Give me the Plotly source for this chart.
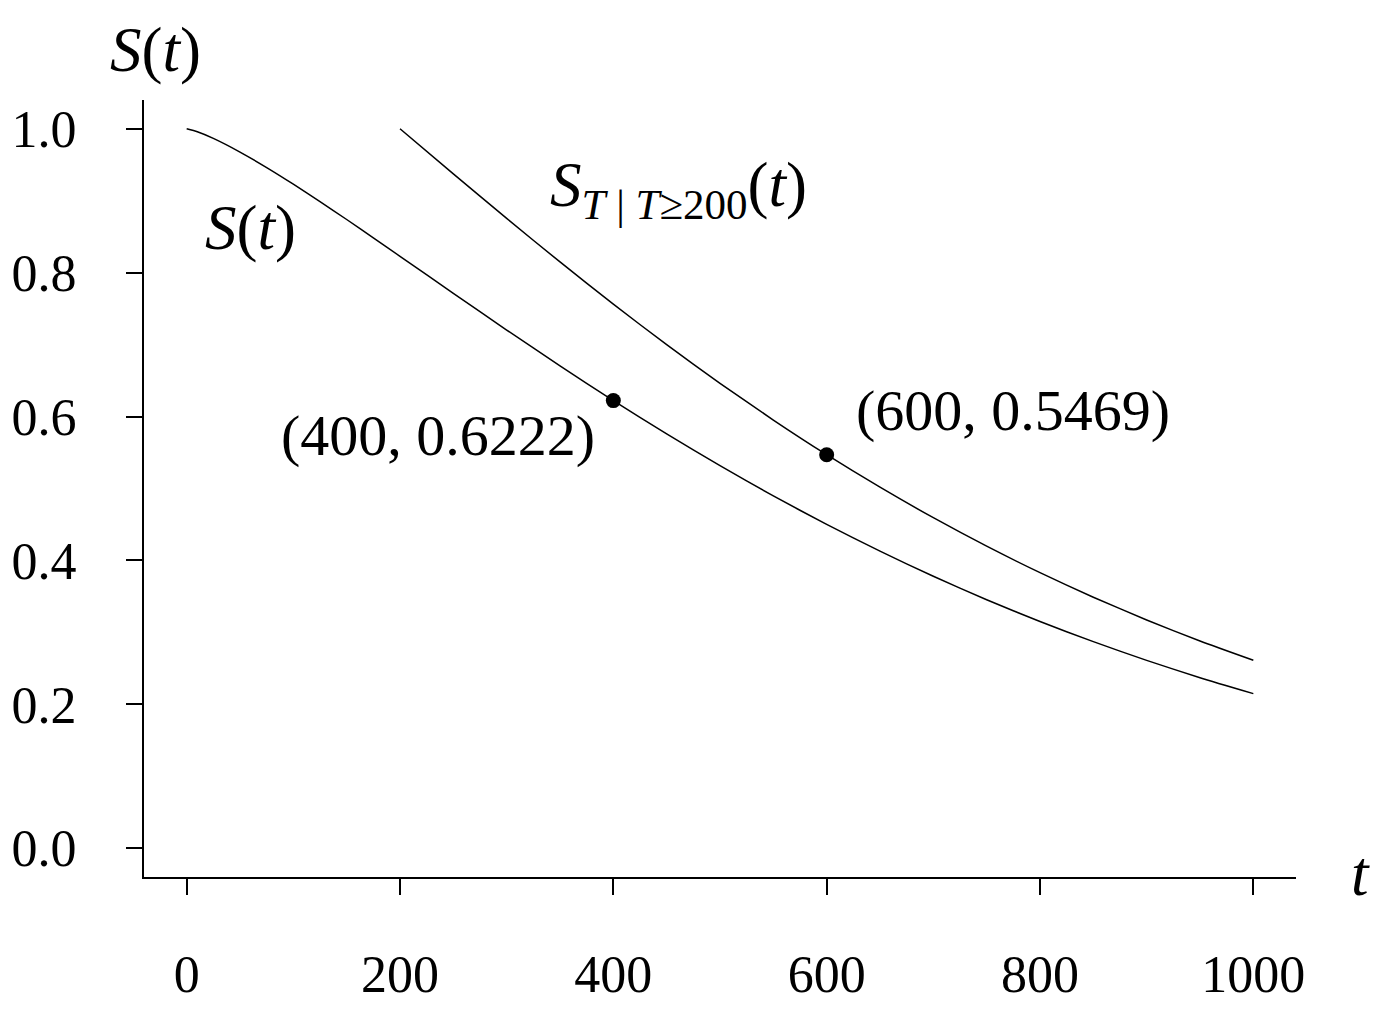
import plotly.graph_objects as go

# values
t_all = [0, 10, 25, 50, 75, 100, 125, 150, 175, 200, 250, 300, 350, 400, 450,
         500, 550, 600, 650, 700, 750, 800, 850, 900, 950, 1000]
s_all = [1.0, 0.9958, 0.9866, 0.9676, 0.9461, 0.9230, 0.8988, 0.8739, 0.8485,
         0.8228, 0.7713, 0.7203, 0.6705, 0.6222, 0.5759, 0.5317, 0.4897, 0.4501,
         0.4129, 0.3780, 0.3454, 0.3151, 0.2871, 0.2611, 0.2370, 0.2149]

t_cond = [200, 250, 300, 350, 400, 450, 500, 550, 600, 650, 700, 750, 800,
          850, 900, 950, 1000]
s_cond = [1.0, 0.9374, 0.8754, 0.8149, 0.7562, 0.6999, 0.6462, 0.5952, 0.5470,
          0.5018, 0.4594, 0.4198, 0.3830, 0.3489, 0.3173, 0.2880, 0.2612]

pt_t = [400, 600]
pt_s = [0.6222, 0.5469]
pt_labels = ["(400, 0.6222)", "(600, 0.5469)"]

x_ticks = [0, 200, 400, 600, 800, 1000]
y_ticks = [0.0, 0.2, 0.4, 0.6, 0.8, 1.0]

FONT = "Liberation Serif"

fig = go.Figure()
fig.add_trace(go.Scatter(x=t_all, y=s_all, mode="lines",
                         line=dict(color="black", width=1.5, shape="spline", smoothing=0.6),
                         showlegend=False, hoverinfo="skip"))
fig.add_trace(go.Scatter(x=t_cond, y=s_cond, mode="lines",
                         line=dict(color="black", width=1.5, shape="spline", smoothing=0.6),
                         showlegend=False, hoverinfo="skip"))
fig.add_trace(go.Scatter(x=pt_t, y=pt_s, mode="markers", marker=dict(color="black", size=15),
                         showlegend=False, hoverinfo="skip"))

ann_font = dict(family=FONT, size=58, color="black")
sym_font = dict(family=FONT, size=63, color="black")
sub_text = "<i>T</i> | <i>T</i>≥200"
annotations = [
    dict(xref="paper", yref="paper", x=0.0104, y=1.0644, text="<i>S</i>(<i>t</i>)", font=sym_font),
    dict(xref="paper", yref="paper", x=1.0556, y=0.004, text="<i>t</i>", font=sym_font),
    dict(xref="x", yref="y", x=60, y=0.862, text="<i>S</i>(<i>t</i>)", font=sym_font),
    dict(xref="x", yref="y", x=461, y=0.916, font=sym_font,
         text="<i>S</i><sub><span style=\"font-size:43px\">" + sub_text + "</span></sub>(<i>t</i>)"),
    dict(xref="x", yref="y", x=236, y=0.573, text=pt_labels[0], font=ann_font),
    dict(xref="x", yref="y", x=775, y=0.609, text=pt_labels[1], font=ann_font),
]
for a in annotations:
    a.update(showarrow=False, xanchor="center", yanchor="middle")

fig.update_layout(
    width=1363, height=997,
    margin=dict(l=136, r=75, t=92, b=128, autoexpand=False),
    paper_bgcolor="white", plot_bgcolor="white",
    font=dict(family=FONT, size=52, color="black"),
    annotations=annotations,
    xaxis=dict(range=[-40, 1040], tickvals=x_ticks, ticktext=[str(v) for v in x_ticks],
               automargin=False,
               showgrid=False, zeroline=False, showline=True, linecolor="black", linewidth=2,
               ticks="outside", ticklen=16, tickwidth=1.5, tickcolor="black",
               ticklabelstandoff=35, tickfont=dict(family=FONT, size=52)),
    yaxis=dict(range=[-0.04, 1.04], tickvals=y_ticks, ticktext=[f"{v:.1f}" for v in y_ticks],
               automargin=False,
               showgrid=False, zeroline=False, showline=True, linecolor="black", linewidth=2,
               ticks="outside", ticklen=16, tickwidth=1.5, tickcolor="black",
               ticklabelstandoff=39, tickfont=dict(family=FONT, size=52)),
)

fig.write_html("out.html")
